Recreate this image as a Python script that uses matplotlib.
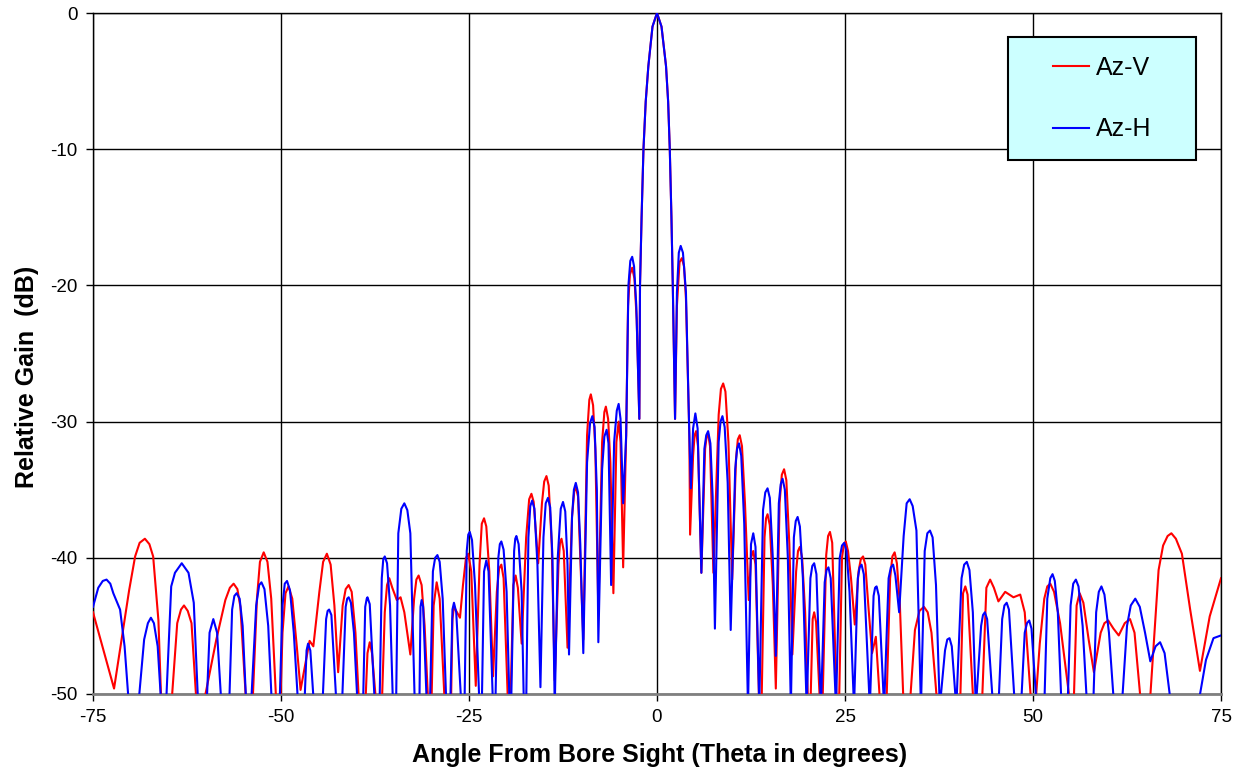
import matplotlib
matplotlib.use("Agg")
import matplotlib.pyplot as plt
from matplotlib.patches import Rectangle

plt.rcParams['font.family'] = ['Liberation Sans', 'DejaVu Sans']

# Az-V (red): (angle in degrees, relative gain in dB)
az_v_points = [
    (-75.0, -44.0), (-73.6, -46.8), (-72.2, -49.6), (-71.0, -45.3), (-70.2, -42.4), (-69.4, -39.9),
    (-68.8, -38.9), (-68.1, -38.6), (-67.5, -39.0), (-67.0, -39.9), (-66.3, -44.6), (-65.9, -51.0),
    (-64.6, -51.0), (-63.8, -44.8), (-63.3, -43.8), (-62.9, -43.5), (-62.4, -43.9), (-61.9, -44.8), (-61.2, -51.0),
    (-60.4, -51.0), (-58.6, -46.0), (-57.4, -43.1), (-56.8, -42.2), (-56.3, -41.9), (-55.8, -42.3), (-55.4, -43.6), (-54.6, -51.0),
    (-53.8, -51.0), (-53.2, -43.0), (-52.8, -40.3), (-52.3, -39.6), (-51.8, -40.3), (-51.3, -43.0), (-50.6, -51.0),
    (-50.1, -51.0), (-49.8, -45.5), (-49.4, -42.6), (-49.0, -42.1), (-48.5, -43.0), (-47.9, -46.5), (-47.4, -49.7),
    (-46.2, -46.1), (-45.7, -46.5), (-44.9, -42.5), (-44.4, -40.3), (-43.9, -39.7), (-43.4, -40.5), (-42.9, -43.5), (-42.4, -48.4),
    (-41.8, -43.5), (-41.4, -42.3), (-41.0, -42.0), (-40.6, -42.5), (-40.1, -45.5), (-39.6, -51.0),
    (-38.8, -51.0), (-38.5, -47.0), (-38.2, -46.2), (-37.9, -47.0), (-37.3, -51.0),
    (-36.6, -51.0), (-36.2, -44.0), (-35.9, -42.0), (-35.6, -41.5), (-35.2, -42.2), (-34.6, -43.1), (-34.1, -42.9), (-33.6, -44.0), (-32.8, -47.1),
    (-32.3, -43.0), (-32.0, -41.6), (-31.7, -41.3), (-31.3, -42.0), (-30.9, -45.0), (-30.4, -51.0),
    (-30.0, -51.0), (-29.7, -43.5), (-29.3, -41.8), (-28.9, -43.0), (-28.2, -51.0),
    (-27.4, -51.0), (-27.2, -44.5), (-27.0, -43.6), (-26.6, -44.0), (-26.2, -44.4), (-25.8, -42.0), (-25.4, -40.0), (-25.1, -39.7), (-24.7, -41.0), (-24.1, -49.4),
    (-23.6, -40.5), (-23.3, -37.5), (-23.0, -37.1), (-22.7, -37.7), (-22.3, -41.0), (-21.8, -48.7),
    (-21.3, -42.5), (-21.0, -40.8), (-20.7, -40.5), (-20.4, -41.5), (-19.8, -51.0),
    (-19.5, -51.0), (-19.1, -42.0), (-18.8, -41.3), (-18.5, -42.2), (-18.0, -46.3),
    (-17.4, -38.5), (-17.0, -35.7), (-16.7, -35.3), (-16.4, -35.9), (-15.8, -40.4),
    (-15.3, -36.0), (-15.0, -34.4), (-14.7, -34.0), (-14.4, -34.7), (-14.0, -39.0), (-13.6, -49.0),
    (-13.1, -40.5), (-12.9, -38.9), (-12.7, -38.6), (-12.4, -39.5), (-11.9, -46.6),
    (-11.3, -37.0), (-11.0, -35.1), (-10.8, -34.8), (-10.5, -35.5), (-9.8, -46.0),
    (-9.3, -31.0), (-9.0, -28.4), (-8.8, -28.0), (-8.5, -28.8), (-8.2, -32.0), (-7.8, -44.0),
    (-7.3, -31.5), (-7.0, -29.3), (-6.8, -28.9), (-6.5, -29.8), (-6.2, -33.0), (-5.8, -42.6),
    (-5.4, -31.5), (-5.1, -30.0), (-4.85, -31.5), (-4.5, -40.7),
    (-4.1, -31.0), (-3.85, -21.5), (-3.6, -19.2), (-3.3, -18.7), (-3.0, -19.5), (-2.7, -22.5), (-2.35, -29.8),
    (-2.26, -20.0), (-2.05, -15.0), (-1.8, -10.0), (-1.5, -6.5), (-1.15, -3.9), (-0.6, -1.0), (0.0, 0.0),
    (0.6, -1.0), (1.2, -3.9), (1.48, -6.5), (1.7, -10.0), (1.92, -15.0), (2.1, -20.0), (2.4, -29.8),
    (2.65, -21.5), (3.0, -18.3), (3.3, -18.0), (3.6, -18.6), (3.85, -21.0), (4.3, -31.0), (4.4, -38.3),
    (4.8, -32.5), (5.0, -31.0), (5.2, -30.7), (5.45, -31.8), (5.9, -41.1),
    (6.4, -32.0), (6.6, -31.1), (6.8, -30.9), (7.05, -31.8), (7.5, -41.1),
    (8.2, -29.5), (8.5, -27.6), (8.8, -27.2), (9.1, -27.8), (9.5, -31.5), (10.0, -41.6),
    (10.5, -32.8), (10.75, -31.3), (11.0, -31.0), (11.3, -31.8), (11.7, -36.0), (12.2, -43.1),
    (12.5, -40.0), (12.8, -39.5), (13.1, -40.5), (13.6, -51.0),
    (13.9, -51.0), (14.3, -38.5), (14.5, -37.1), (14.7, -36.8), (15.0, -37.6), (15.4, -42.0), (15.8, -49.6),
    (16.3, -36.0), (16.6, -33.9), (16.9, -33.5), (17.2, -34.3), (17.6, -39.0), (18.0, -47.1),
    (18.5, -41.0), (18.75, -39.5), (19.0, -39.2), (19.3, -40.0), (19.7, -44.0), (20.1, -51.0),
    (20.4, -51.0), (20.7, -44.5), (20.9, -44.0), (21.15, -44.7), (21.7, -51.0),
    (22.0, -51.0), (22.5, -39.8), (22.75, -38.4), (23.0, -38.1), (23.3, -38.9), (23.9, -51.0),
    (24.2, -51.0), (24.6, -40.0), (24.85, -39.0), (25.1, -38.8), (25.4, -39.5), (25.8, -41.5), (26.3, -44.9),
    (26.8, -41.0), (27.1, -40.1), (27.4, -39.9), (27.7, -40.5), (28.1, -43.5), (28.6, -47.0),
    (29.1, -45.8), (29.7, -51.0),
    (30.5, -51.0), (31.0, -41.5), (31.3, -39.9), (31.6, -39.6), (31.9, -40.4), (32.3, -43.5), (32.8, -51.0),
    (33.6, -51.0), (34.3, -45.3), (34.9, -43.9), (35.5, -43.6), (36.0, -44.0), (36.5, -45.5), (37.3, -51.0),
    (40.3, -51.0), (40.7, -42.6), (41.0, -42.1), (41.3, -42.7), (42.1, -51.0),
    (43.2, -51.0), (43.8, -42.2), (44.3, -41.6), (44.8, -42.2), (45.4, -43.2), (46.3, -42.5), (47.4, -42.9), (48.3, -42.7), (48.9, -44.0), (49.8, -51.0),
    (50.3, -51.0), (50.9, -46.3), (51.5, -43.0), (51.9, -42.1), (52.3, -41.9), (52.8, -42.5), (53.6, -44.8), (55.0, -51.0),
    (55.4, -51.0), (55.8, -43.5), (56.2, -42.6), (56.7, -43.3), (57.4, -46.0), (58.1, -48.4),
    (59.0, -45.5), (59.5, -44.8), (60.0, -44.6), (60.7, -45.2), (61.4, -45.7), (62.2, -44.8), (62.9, -44.5), (63.5, -45.5), (64.4, -51.0),
    (65.5, -51.0), (66.7, -40.9), (67.3, -39.1), (67.9, -38.4), (68.4, -38.2), (69.0, -38.6), (69.8, -39.7), (70.9, -43.8), (72.2, -48.3),
    (73.5, -44.3), (75.0, -41.5),
]

# Az-H (blue): (angle in degrees, relative gain in dB)
az_h_points = [
    (-75.0, -43.6), (-74.3, -42.2), (-73.7, -41.7), (-73.2, -41.6), (-72.7, -41.9), (-72.3, -42.6), (-71.4, -43.8), (-70.8, -46.5), (-70.2, -51.0),
    (-69.0, -51.0), (-68.2, -46.0), (-67.7, -44.8), (-67.3, -44.4), (-66.9, -44.8), (-66.4, -46.5), (-65.9, -51.0),
    (-65.3, -51.0), (-64.6, -42.1), (-64.1, -41.1), (-63.2, -40.4), (-62.3, -41.1), (-61.6, -43.3), (-61.0, -51.0),
    (-59.9, -51.0), (-59.5, -45.5), (-59.0, -44.5), (-58.5, -45.5), (-57.9, -51.0),
    (-56.9, -51.0), (-56.5, -43.8), (-56.2, -42.8), (-55.9, -42.6), (-55.5, -43.0), (-55.1, -45.0), (-54.6, -51.0),
    (-54.0, -51.0), (-53.3, -43.5), (-52.9, -42.0), (-52.6, -41.8), (-52.2, -42.3), (-51.7, -45.0), (-51.2, -51.0),
    (-50.2, -51.0), (-49.8, -43.5), (-49.5, -41.9), (-49.2, -41.7), (-48.8, -42.4), (-48.3, -45.5), (-47.7, -51.0),
    (-46.9, -51.0), (-46.6, -46.8), (-46.4, -46.3), (-46.1, -46.8), (-45.6, -51.0),
    (-44.5, -51.0), (-44.0, -44.5), (-43.8, -43.9), (-43.6, -43.8), (-43.3, -44.2), (-42.6, -51.0),
    (-41.9, -51.0), (-41.4, -43.6), (-41.2, -43.0), (-41.0, -42.9), (-40.7, -43.3), (-40.3, -45.5), (-39.8, -51.0),
    (-39.1, -51.0), (-38.8, -43.6), (-38.6, -43.0), (-38.5, -42.9), (-38.2, -43.4), (-37.5, -51.0),
    (-36.9, -51.0), (-36.6, -41.5), (-36.4, -40.1), (-36.2, -39.9), (-35.9, -40.4), (-35.5, -43.5), (-35.1, -51.0),
    (-34.7, -51.0), (-34.4, -38.2), (-34.0, -36.4), (-33.6, -36.0), (-33.2, -36.5), (-32.8, -38.2), (-32.2, -51.0),
    (-31.6, -51.0), (-31.45, -43.6), (-31.3, -43.1), (-31.1, -43.6), (-30.6, -51.0),
    (-30.2, -51.0), (-29.8, -41.0), (-29.5, -40.0), (-29.2, -39.8), (-28.9, -40.3), (-28.5, -43.0), (-28.0, -51.0),
    (-27.5, -51.0), (-27.2, -43.8), (-27.0, -43.3), (-26.7, -44.0), (-26.0, -51.0),
    (-25.6, -51.0), (-25.3, -39.5), (-25.1, -38.3), (-24.9, -38.1), (-24.6, -38.7), (-24.2, -42.0), (-23.6, -51.0),
    (-23.3, -51.0), (-23.0, -41.0), (-22.7, -40.2), (-22.4, -41.0), (-21.8, -51.0),
    (-21.5, -51.0), (-21.1, -40.0), (-20.9, -39.0), (-20.7, -38.8), (-20.4, -39.4), (-20.0, -42.5), (-19.6, -51.0),
    (-19.4, -51.0), (-19.0, -39.5), (-18.85, -38.6), (-18.7, -38.4), (-18.4, -39.0), (-18.0, -42.5), (-17.7, -51.0),
    (-17.4, -51.0), (-17.1, -38.5), (-16.85, -36.2), (-16.6, -35.8), (-16.3, -36.4), (-15.9, -40.5), (-15.5, -49.5),
    (-15.1, -38.5), (-14.8, -36.0), (-14.5, -35.6), (-14.2, -36.3), (-13.9, -40.0), (-13.6, -51.0),
    (-13.2, -40.0), (-12.8, -36.4), (-12.5, -35.9), (-12.2, -36.6), (-11.9, -40.5), (-11.7, -47.1),
    (-11.3, -37.0), (-11.05, -35.0), (-10.8, -34.5), (-10.5, -35.2), (-10.2, -39.0), (-9.8, -47.0),
    (-9.3, -33.0), (-8.9, -30.1), (-8.6, -29.6), (-8.3, -30.4), (-8.0, -35.0), (-7.8, -46.2),
    (-7.3, -33.5), (-7.0, -31.1), (-6.7, -30.6), (-6.45, -31.6), (-6.1, -42.0),
    (-5.7, -31.5), (-5.35, -29.2), (-5.1, -28.7), (-4.85, -29.8), (-4.5, -36.0),
    (-4.1, -31.0), (-3.8, -20.0), (-3.55, -18.2), (-3.3, -17.9), (-3.05, -18.6), (-2.75, -21.5), (-2.35, -29.8),
    (-2.26, -20.0), (-2.05, -15.0), (-1.8, -10.0), (-1.5, -6.5), (-1.15, -3.9), (-0.6, -1.0), (0.0, 0.0),
    (0.6, -1.0), (1.2, -3.9), (1.48, -6.5), (1.7, -10.0), (1.92, -15.0), (2.1, -20.0), (2.4, -29.8),
    (2.65, -20.5), (2.9, -17.6), (3.15, -17.1), (3.45, -17.6), (3.85, -20.5), (4.3, -31.0), (4.5, -34.9),
    (4.8, -30.5), (5.1, -29.4), (5.4, -30.5), (5.9, -41.1),
    (6.3, -32.0), (6.55, -31.0), (6.8, -30.7), (7.1, -31.6), (7.4, -35.5), (7.7, -45.2),
    (8.2, -31.5), (8.45, -30.0), (8.7, -29.6), (9.0, -30.4), (9.4, -34.5), (9.8, -45.3),
    (10.4, -33.5), (10.65, -32.0), (10.9, -31.6), (11.2, -32.5), (11.6, -37.5), (12.1, -51.0),
    (12.5, -39.0), (12.8, -38.2), (13.1, -39.2), (13.6, -51.0),
    (14.1, -36.5), (14.4, -35.2), (14.7, -34.9), (15.0, -35.6), (15.4, -40.0), (15.8, -47.2),
    (16.2, -36.0), (16.45, -34.6), (16.7, -34.2), (17.0, -35.0), (17.4, -40.0), (17.8, -51.0),
    (18.2, -38.5), (18.45, -37.3), (18.7, -37.0), (19.0, -37.7), (19.4, -41.5), (19.9, -51.0),
    (20.4, -41.5), (20.65, -40.6), (20.9, -40.4), (21.2, -41.2), (21.8, -51.0),
    (22.3, -41.8), (22.55, -40.9), (22.8, -40.7), (23.1, -41.5), (23.8, -51.0),
    (24.3, -40.0), (24.6, -39.1), (24.9, -38.9), (25.2, -39.5), (25.6, -42.5), (26.2, -51.0),
    (26.7, -41.5), (26.95, -40.7), (27.2, -40.5), (27.5, -41.2), (28.3, -51.0),
    (28.8, -42.8), (29.0, -42.2), (29.2, -42.1), (29.5, -42.8), (30.2, -51.0),
    (30.8, -41.5), (31.1, -40.7), (31.4, -40.5), (31.7, -41.3), (32.2, -44.0),
    (32.8, -38.4), (33.2, -36.0), (33.6, -35.7), (34.0, -36.2), (34.5, -38.0), (35.1, -51.0),
    (35.6, -39.5), (35.95, -38.2), (36.3, -38.0), (36.65, -38.5), (37.1, -42.0), (37.6, -51.0),
    (38.3, -46.8), (38.6, -46.0), (38.9, -45.9), (39.2, -46.5), (39.8, -51.0),
    (40.5, -41.5), (40.85, -40.5), (41.2, -40.3), (41.55, -40.9), (42.0, -44.0), (42.4, -51.0),
    (43.1, -45.0), (43.35, -44.2), (43.6, -44.0), (43.9, -44.5), (44.7, -51.0),
    (45.4, -51.0), (45.9, -44.5), (46.2, -43.5), (46.5, -43.3), (46.8, -43.8), (47.6, -51.0),
    (48.4, -51.0), (48.9, -45.5), (49.2, -44.8), (49.5, -44.6), (49.8, -45.2), (50.5, -51.0),
    (51.5, -51.0), (51.9, -43.0), (52.3, -41.5), (52.6, -41.2), (52.9, -41.7), (53.3, -44.0), (53.8, -51.0),
    (54.6, -51.0), (55.0, -43.5), (55.35, -41.9), (55.7, -41.6), (56.05, -42.1), (56.6, -45.0), (57.2, -51.0),
    (58.0, -51.0), (58.4, -44.0), (58.75, -42.5), (59.1, -42.1), (59.5, -42.7), (60.1, -45.5), (60.8, -51.0),
    (61.8, -51.0), (62.5, -45.0), (63.0, -43.5), (63.6, -43.0), (64.2, -43.6), (64.9, -45.5), (65.6, -47.6),
    (66.3, -46.5), (66.9, -46.2), (67.5, -47.0), (68.4, -51.0),
    (71.9, -51.0), (73.0, -47.5), (74.0, -45.9), (75.0, -45.7),
]

x_ticks = [-75, -50, -25, 0, 25, 50, 75]
y_ticks = [0, -10, -20, -30, -40, -50]
series_labels = ['Az-V', 'Az-H']

az_v_theta = [p[0] for p in az_v_points]
az_v_gain = [p[1] for p in az_v_points]
az_h_theta = [p[0] for p in az_h_points]
az_h_gain = [p[1] for p in az_h_points]

W, H = 1245, 775
fig = plt.figure(figsize=(W / 100, H / 100), dpi=100)
ax = fig.add_axes([93 / W, 1 - 694 / H, (1221 - 93) / W, (694 - 13) / H])

l1, = ax.plot(az_v_theta, az_v_gain, color='#FF0000', lw=1.5, zorder=3,
              label=series_labels[0], solid_joinstyle='round')
l2, = ax.plot(az_h_theta, az_h_gain, color='#0000FF', lw=1.5, zorder=4,
              label=series_labels[1], solid_joinstyle='round')

ax.set_xlim(-75, 75)
ax.set_ylim(-50, 0)
ax.set_xticks(x_ticks)
ax.set_yticks(y_ticks)
ax.set_xticklabels([str(t) for t in x_ticks])
ax.set_yticklabels([str(t) for t in y_ticks])
ax.grid(True, color='black', lw=1.0, zorder=1)
ax.set_axisbelow(True)
for s in ['top', 'right', 'left']:
    ax.spines[s].set_color('black')
    ax.spines[s].set_linewidth(1.0)
ax.spines['bottom'].set_color('#808080')
ax.spines['bottom'].set_linewidth(2.0)
ax.tick_params(axis='both', direction='out', length=5, width=1, color='black',
               labelsize=13.5, pad=6)

fig.text(660 / W, 1 - 755 / H, 'Angle From Bore Sight (Theta in degrees)',
         ha='center', va='center', fontsize=18, fontweight='bold')
fig.text(27 / W, 1 - 377 / H, 'Relative Gain  (dB)', rotation=90,
         ha='center', va='center', fontsize=18, fontweight='bold')

# legend box
bx0 = (1008 - 93) / 1128
by0 = (694 - 160) / 681
bw = (1196 - 1008) / 1128
bh = (160 - 37) / 681
ax.add_patch(Rectangle((bx0, by0), bw, bh, transform=ax.transAxes,
                       facecolor='#CCFFFF', edgecolor='black', lw=1.5, zorder=6,
                       clip_on=False))
leg = ax.legend(handles=[l1, l2], loc='center', bbox_to_anchor=(bx0 + bw / 2, by0 + bh / 2),
                bbox_transform=ax.transAxes, frameon=False, fontsize=18,
                handlelength=1.45, handletextpad=0.25, labelspacing=1.5)
leg.set_zorder(7)
for ln in leg.get_lines():
    ln.set_linewidth(1.5)

fig.savefig('out.png', dpi=100)
